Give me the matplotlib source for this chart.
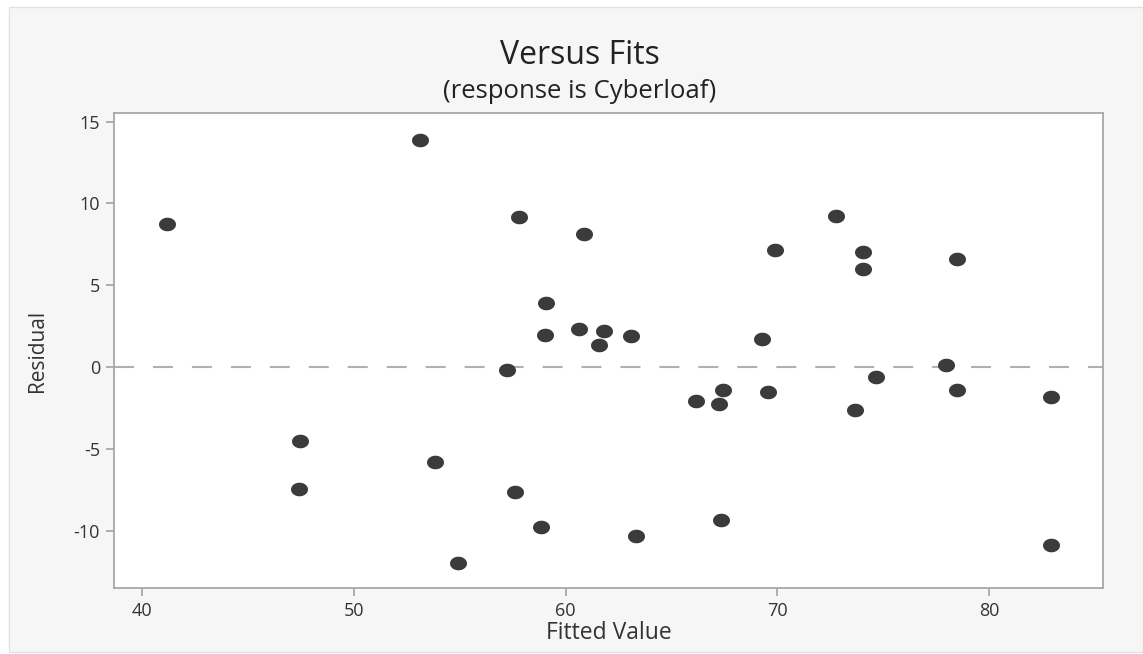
import numpy as np
import matplotlib
matplotlib.use("Agg")
import matplotlib.pyplot as plt
from matplotlib.patches import Rectangle
from matplotlib.path import Path

# fitted values and residuals
fitted = [41.2, 47.46, 47.4, 53.13, 53.84, 54.94, 57.23, 57.81, 57.6, 58.82,
          59.07, 59.02, 60.85, 60.66, 61.6, 61.82, 63.11, 63.34, 66.14, 67.27,
          67.35, 67.46, 69.3, 69.56, 69.89, 72.77, 73.65, 74.04, 74.04, 74.67,
          77.96, 78.5, 78.5, 82.92, 82.94]
residual = [8.76, -4.49, -7.44, 13.9, -5.83, -11.97, -0.18, 9.15, -7.66, -9.8,
            3.92, 1.93, 8.11, 2.34, 1.36, 2.18, 1.87, -10.3, -2.09, -2.26,
            -9.33, -1.4, 1.73, -1.5, 7.18, 9.25, -2.62, 7.01, 6.0, -0.59,
            0.1, -1.42, 6.57, -1.81, -10.9]

xticks = [40, 50, 60, 70, 80]
yticks = [-10, -5, 0, 5, 10, 15]

plt.rcParams['font.family'] = ['Open Sans', 'DejaVu Sans']
plt.rcParams['axes.unicode_minus'] = False  # plain hyphen like the original

fig = plt.figure(figsize=(11.43, 6.54), dpi=100)
fig.patch.set_facecolor("white")
# light grey panel behind everything
fig.patches.append(Rectangle((9 / 1143, 2 / 654), 1 - 9 / 1143, 1 - 9 / 654,
                             transform=fig.transFigure, facecolor="#f6f6f6",
                             edgecolor="#e2e2e2", lw=1, zorder=-10))

ax = fig.add_axes([114 / 1143, 1 - 588 / 654, 989 / 1143, 475 / 654])
ax.set_facecolor("white")

# slightly wide ellipse marker
t = np.linspace(0, 2 * np.pi, 60)
ell = Path(np.column_stack([1.25 * np.cos(t), np.sin(t)]), closed=True)

ax.axhline(0, color="#b0b0b0", lw=1.5, linestyle=(0, (9.6, 9.1)), zorder=1)
ax.scatter(fitted, residual, marker=ell, s=150, color="#3b3b3b", lw=0, zorder=3)

ax.set_xlim(38.68, 85.38)
ax.set_ylim(-13.5, 15.52)
ax.set_xticks(xticks)
ax.set_yticks(yticks)

for s in ax.spines.values():
    s.set_color("#a8a8a8")
    s.set_linewidth(1.3)
ax.tick_params(direction="out", length=6, width=1.3, color="#a8a8a8",
               labelcolor="#333333", labelsize=13, pad=4)

ax.set_xlabel("Fitted Value", fontsize=16.5, color="#333333")
ax.xaxis.set_label_coords(0.5, -(633 - 588) / 475, transform=ax.transAxes)
ax.xaxis.label.set_va("center")
ax.set_ylabel("Residual", fontsize=15, color="#333333")
ax.yaxis.set_label_coords((48 - 114) / 989, 0.5)

fig.text(580 / 1143, 1 - 55 / 654, "Versus Fits", ha="center", va="center",
         fontsize=23, color="#222222")
fig.text(580 / 1143, 1 - 92 / 654, "(response is Cyberloaf)", ha="center",
         va="center", fontsize=18.5, color="#222222")

fig.savefig("out.png", dpi=100)
